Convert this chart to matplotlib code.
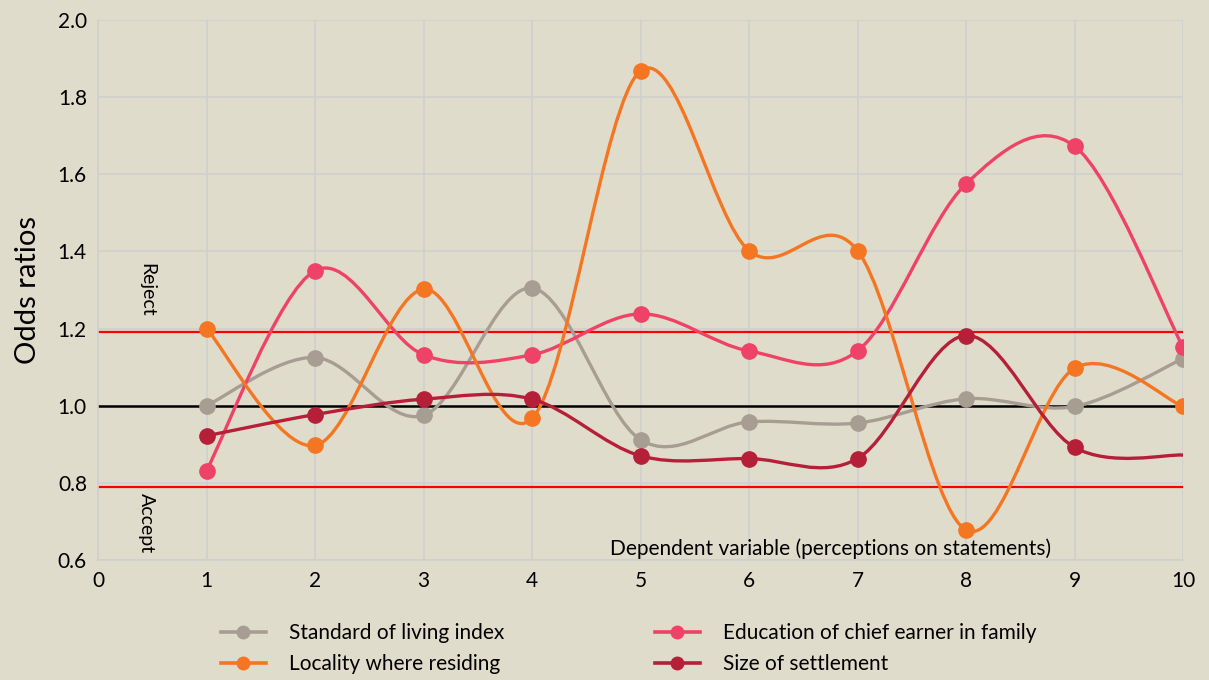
import numpy as np
import matplotlib
matplotlib.use("Agg")
import matplotlib.pyplot as plt
from matplotlib.path import Path
from matplotlib.patches import PathPatch
from matplotlib.lines import Line2D

# --- data ---
statements = [1, 2, 3, 4, 5, 6, 7, 8, 9, 10]
standard_of_living = [1.00, 1.125, 0.975, 1.305, 0.912, 0.958, 0.955, 1.018, 0.998, 1.122]
locality = [1.20, 0.897, 1.302, 0.967, 1.868, 1.402, 1.402, 0.678, 1.097, 0.998]
education = [0.832, 1.350, 1.132, 1.132, 1.238, 1.142, 1.142, 1.575, 1.673, 1.152]
settlement = [0.922, 0.977, 1.017, 1.017, 0.870, 0.863, 0.863, 1.182, 0.892, 0.872]

series = [
    ("Standard of living index", standard_of_living, "#a89d93"),
    ("Education of chief earner in family", education, "#ef4268"),
    ("Locality where residing", locality, "#f47622"),
    ("Size of settlement", settlement, "#b61f38"),
]

BG = "#e0dccb"
FONT = ["Lato", "DejaVu Sans"]
plt.rcParams["font.family"] = FONT


def smooth_path(xs, ys):
    # excel-like smoothed line: cubic bezier with catmull-rom control points
    pts = np.column_stack([xs, ys]).astype(float)
    verts = [pts[0]]
    codes = [Path.MOVETO]
    n = len(pts)
    for i in range(n - 1):
        p0 = pts[i - 1] if i > 0 else pts[i]
        p1 = pts[i]
        p2 = pts[i + 1]
        p3 = pts[i + 2] if i + 2 < n else pts[i + 1]
        c1 = p1 + (p2 - p0) / 6.0
        c2 = p2 - (p3 - p1) / 6.0
        verts += [c1, c2, p2]
        codes += [Path.CURVE4] * 3
    return Path(verts, codes)


fig = plt.figure(figsize=(12.09, 6.8), dpi=100, facecolor=BG)
ax = fig.add_axes([98 / 1209, 1 - 560 / 680, (1183 - 98) / 1209, 540 / 680])
ax.set_facecolor(BG)

ax.set_xlim(0, 10)
ax.set_ylim(0.6, 2.0)
ax.set_xticks(range(0, 11))
ax.set_yticks(np.arange(0.6, 2.01, 0.2))
ax.set_yticklabels([f"{v:.1f}" for v in np.arange(0.6, 2.01, 0.2)])
ax.grid(True, color="#cfcfcf", linewidth=1.2)
ax.set_axisbelow(True)
for s in ["top", "right"]:
    ax.spines[s].set_visible(False)
for s in ["left", "bottom"]:
    ax.spines[s].set_color("#cfcfcf")
    ax.spines[s].set_linewidth(1.2)
ax.tick_params(length=0, labelsize=15, pad=8, colors="black")

# reference lines
ax.axhline(1.0, color="black", linewidth=1.8, zorder=2)
ax.axhline(1.19, color="#ff0000", linewidth=1.6, zorder=2)
ax.axhline(0.79, color="#ff0000", linewidth=1.6, zorder=2)

ax.text(0.45, 1.30, "Reject", rotation=-90, ha="center", va="center", fontsize=14)
ax.text(0.45, 0.695, "Accept", rotation=-90, ha="center", va="center", fontsize=14)

handles = {}
for name, vals, col in series:
    ax.add_patch(PathPatch(smooth_path(statements, vals), facecolor="none",
                           edgecolor=col, linewidth=2.4, zorder=3,
                           capstyle="round"))
    if name == "Size of settlement":
        mx, my = statements[:-1], vals[:-1]
    else:
        mx, my = statements, vals
    ax.plot(mx, my, "o", color=col, markersize=11, zorder=4)
    handles[name] = Line2D([], [], color=col, linewidth=2.6, marker="o", markersize=9)

ax.set_ylabel("Odds ratios", fontsize=21, labelpad=12)
ax.text(6.75, 0.63, "Dependent variable (perceptions on statements)",
        ha="center", va="center", fontsize=15)

order = ["Standard of living index", "Locality where residing",
         "Education of chief earner in family", "Size of settlement"]
fig.legend([handles[k] for k in order], order, ncol=2, frameon=False,
           loc="center", bbox_to_anchor=(0.52, 0.046), fontsize=15,
           handlelength=2.2, columnspacing=7.2, handletextpad=1.1, labelspacing=0.55)

fig.savefig("out.png", dpi=100, facecolor=BG)
